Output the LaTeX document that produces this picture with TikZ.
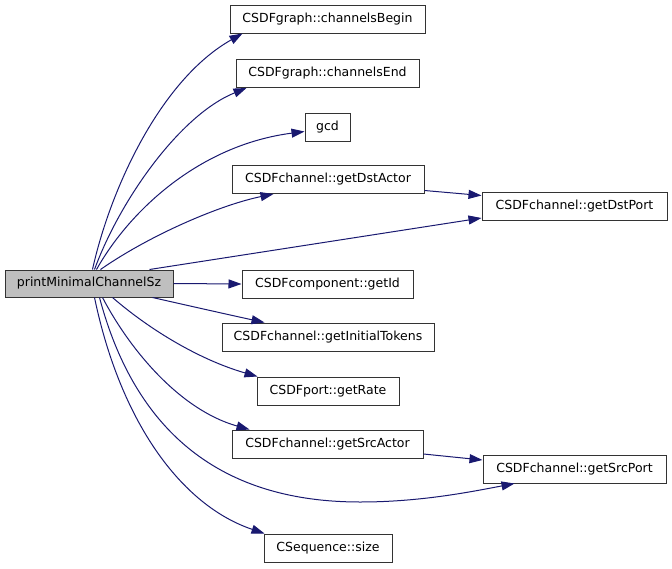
\documentclass[tikz,border=0pt]{standalone}
\usepackage{fontspec}
\setmainfont{DejaVu Sans}
\usetikzlibrary{arrows.meta,calc}
\definecolor{edgeblue}{HTML}{191970}
\definecolor{boxgray}{HTML}{BFBFBF}
\begin{document}
\begin{tikzpicture}[x=1pt,y=-1pt,
  fn/.style={draw=black!80,line width=1pt,fill=white,minimum height=28pt,inner sep=0pt,
    font=\fontsize{12.5}{15}\selectfont,anchor=center},
  call/.style={draw=edgeblue,line width=1pt,-{Triangle[length=13pt,width=9pt]}}]
\useasboundingbox (0,0) rectangle (672,568);
\node[fn,fill=boxgray,minimum width=168pt,minimum height=27pt] (main) at (89,283.5) {printMinimalChannelSz};
\node[fn,minimum width=195pt] (cb) at (327.5,19) {CSDFgraph::channelsBegin};
\node[fn,minimum width=183pt] (ce) at (327.5,73.5) {CSDFgraph::channelsEnd};
\node[fn,minimum width=45pt] (gcd) at (327.5,127) {gcd};
\node[fn,minimum width=192pt] (da) at (328,179.5) {CSDFchannel::getDstActor};
\node[fn,minimum width=185pt] (dp) at (574.5,206.5) {CSDFchannel::getDstPort};
\node[fn,minimum width=171pt] (id) at (327.5,284) {CSDFcomponent::getId};
\node[fn,minimum width=212pt] (it) at (328,337) {CSDFchannel::getInitialTokens};
\node[fn,minimum width=142pt] (rate) at (328,391) {CSDFport::getRate};
\node[fn,minimum width=191pt] (sa) at (327.5,444) {CSDFchannel::getSrcActor};
\node[fn,minimum width=183pt] (sp) at (574.5,469) {CSDFchannel::getSrcPort};
\node[fn,minimum width=128pt] (sz) at (328,548) {CSequence::size};
% edges
\draw[call] ($(main.north west)+(88,0)$) .. controls (110,190) and (160,80) .. ($(cb.south west)+(13,0)$);
\draw[call] ($(main.north west)+(90,0)$) .. controls (120,200) and (180,115) .. ($(ce.south west)+(11,0)$);
\draw[call] ($(main.north west)+(92,0)$) .. controls (130,210) and (200,145) .. ($(gcd.south west)+(0,-10)$);
\draw[call] ($(main.north west)+(96,0)$) .. controls (150,235) and (220,205) .. ($(da.south west)+(42,0)$);
\draw[call] ($(main.north west)+(145,0)$) -- ($(dp.south west)+(0,-3)$);
\draw[call] (main.east) -- (id.west);
\draw[call] ($(main.south west)+(148,0)$) .. controls (190,306) and (230,315) .. ($(it.north west)+(43,0)$);
\draw[call] ($(main.south west)+(108,0)$) .. controls (150,330) and (200,360) .. ($(rate.north west)+(1,0)$);
\draw[call] ($(main.south west)+(98,0)$) .. controls (130,350) and (180,410) .. ($(sa.north west)+(18,0)$);
\draw[call] ($(main.south west)+(95,0)$) .. controls (140,450) and (240,502) .. (360,502) .. controls (420,502) and (470,492) .. ($(sp.south west)+(32,0)$);
\draw[call] ($(main.south west)+(90,0)$) .. controls (120,420) and (180,505) .. ($(sz.north west)+(1,0)$);
\draw[call] ($(da.east)+(0,11)$) -- ($(dp.west)+(0,-11)$);
\draw[call] ($(sa.east)+(0,10)$) -- ($(sp.west)+(0,-9)$);
\end{tikzpicture}
\end{document}
